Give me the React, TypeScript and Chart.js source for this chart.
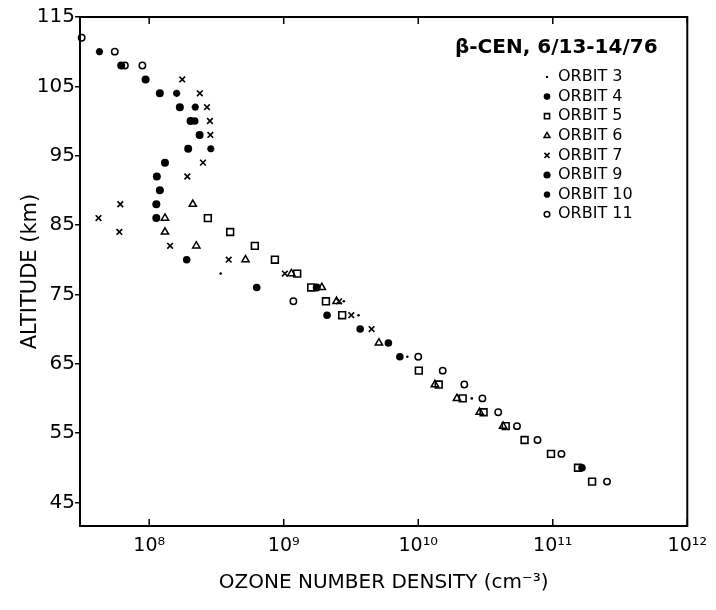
import React, { useEffect, useRef } from 'react';
import { Chart, registerables } from 'chart.js';
import { drawPoint } from 'chart.js/helpers';

Chart.register(...registerables);

const FONT = '"DejaVu Sans", sans-serif';

// ---------- data ----------
const legendTitle = 'β-CEN, 6/13-14/76';
const xAxisTitle = 'OZONE NUMBER DENSITY (cm⁻³)';
const yAxisTitle = 'ALTITUDE (km)';

const xTickValues = [1e8, 1e9, 1e10, 1e11, 1e12];
const xTickLabels = ['10⁸', '10⁹', '10¹⁰', '10¹¹', '10¹²'];
const yTickValues = [45, 55, 65, 75, 85, 95, 105, 115];

const orbitNames = ['ORBIT 3', 'ORBIT 4', 'ORBIT 5', 'ORBIT 6', 'ORBIT 7', 'ORBIT 9', 'ORBIT 10', 'ORBIT 11'];

const orbit3Alt = [78, 74, 72, 66, 60];
const orbit3Den = [3.4e8, 2.8e9, 3.6e9, 8.3e9, 2.5e10];

const orbit4Alt = [100, 80, 76, 72, 70, 68, 66, 50];
const orbit4Den = [2.18e8, 1.9e8, 6.3e8, 2.1e9, 3.7e9, 6.0e9, 7.3e9, 1.65e11];

const orbit5Alt = [86, 84, 82, 80, 78, 76, 74, 72, 64, 62, 60, 58, 56, 54, 52, 50, 48];
const orbit5Den = [2.73e8, 4.0e8, 6.1e8, 8.6e8, 1.26e9, 1.6e9, 2.06e9, 2.72e9, 1.01e10, 1.42e10, 2.14e10, 3.06e10, 4.47e10, 6.17e10, 9.7e10, 1.54e11, 1.96e11];

const orbit6Alt = [88, 86, 84, 82, 80, 78, 76, 74, 68, 62, 60, 58, 56];
const orbit6Den = [2.11e8, 1.31e8, 1.31e8, 2.24e8, 5.2e8, 1.14e9, 1.92e9, 2.47e9, 5.1e9, 1.33e10, 1.94e10, 2.86e10, 4.27e10];

const orbit7Alt = [106, 104, 102, 100, 98, 94, 92, 88, 86, 84, 82, 80, 78, 74, 72, 70];
const orbit7Den = [1.76e8, 2.38e8, 2.69e8, 2.83e8, 2.85e8, 2.51e8, 1.92e8, 6.1e7, 4.2e7, 6.0e7, 1.43e8, 3.9e8, 1.02e9, 2.58e9, 3.18e9, 4.5e9];

const orbit9Alt = [108, 106, 104, 102, 100, 98, 96, 94, 92, 90, 88, 86, 76];
const orbit9Den = [6.2e7, 9.4e7, 1.2e8, 1.69e8, 2.03e8, 2.37e8, 1.95e8, 1.31e8, 1.14e8, 1.2e8, 1.13e8, 1.13e8, 1.76e9];

const orbit10Alt = [110, 104, 102, 96];
const orbit10Den = [4.27e7, 1.6e8, 2.2e8, 2.87e8];

const orbit11Alt = [112, 110, 108, 108, 74, 66, 64, 62, 60, 58, 56, 54, 52, 48];
const orbit11Den = [3.15e7, 5.55e7, 6.6e7, 8.9e7, 1.18e9, 1.0e10, 1.52e10, 2.2e10, 3.0e10, 3.93e10, 5.42e10, 7.7e10, 1.16e11, 2.53e11];

const orbitAlts = [orbit3Alt, orbit4Alt, orbit5Alt, orbit6Alt, orbit7Alt, orbit9Alt, orbit10Alt, orbit11Alt];
const orbitDens = [orbit3Den, orbit4Den, orbit5Den, orbit6Den, orbit7Den, orbit9Den, orbit10Den, orbit11Den];

// ---------- styles ----------
type Marker = { style: any; r: number; lr: number; bw: number; fill: string };
const markers: Marker[] = [
  { style: 'circle', r: 1.3, lr: 1.2, bw: 0, fill: '#000' },
  { style: 'circle', r: 3.8, lr: 3.3, bw: 0, fill: '#000' },
  { style: 'rect', r: 4.8, lr: 3.6, bw: 1.6, fill: 'rgba(0,0,0,0)' },
  { style: 'triangle', r: 4.2, lr: 3.4, bw: 1.5, fill: 'rgba(0,0,0,0)' },
  { style: 'crossRot', r: 4, lr: 3.6, bw: 1.6, fill: 'rgba(0,0,0,0)' },
  { style: 'circle', r: 4, lr: 3.6, bw: 0, fill: '#000' },
  { style: 'star', r: 3.6, lr: 3.2, bw: 2.2, fill: '#000' },
  { style: 'circle', r: 3.2, lr: 2.8, bw: 1.5, fill: 'rgba(0,0,0,0)' },
];

const X_MIN = 3.06e7;
const X_MAX = 1e12;
const Y_MIN = 41.6;
const Y_MAX = 115;

const overlayPlugin = {
  id: 'overlay',
  afterDraw(chart: any) {
    const { ctx, chartArea: a, scales } = chart;
    ctx.save();
    ctx.strokeStyle = '#000';
    ctx.lineWidth = 2;
    ctx.strokeRect(a.left, a.top, a.right - a.left, a.bottom - a.top);
    ctx.lineWidth = 1.5;
    xTickValues.forEach((v) => {
      const px = scales.x.getPixelForValue(v);
      ctx.beginPath();
      ctx.moveTo(px, a.bottom);
      ctx.lineTo(px, a.bottom - 7);
      ctx.moveTo(px, a.top);
      ctx.lineTo(px, a.top + 7);
      ctx.stroke();
    });

    // legend
    ctx.fillStyle = '#000';
    ctx.textBaseline = 'middle';
    ctx.textAlign = 'left';
    ctx.font = 'bold 20px ' + FONT;
    ctx.fillText(legendTitle, 455, 48);
    ctx.font = '16px ' + FONT;
    orbitNames.forEach((name, i) => {
      const y = 77 + i * 19.6;
      const m = markers[i];
      ctx.save();
      ctx.fillStyle = m.fill;
      ctx.strokeStyle = '#000';
      ctx.lineWidth = m.bw;
      drawPoint(ctx, { pointStyle: m.style, radius: m.lr, borderWidth: m.bw, rotation: 0 } as any, 547, y);
      ctx.restore();
      ctx.fillStyle = '#000';
      ctx.fillText(name, 558, y);
    });
    ctx.restore();
  },
};

export default function App() {
  const canvasRef = useRef<HTMLCanvasElement | null>(null);

  useEffect(() => {
    if (!canvasRef.current) return;
    Chart.defaults.font.family = FONT;
    Chart.defaults.color = '#000';

    const datasets = orbitNames.map((name, i) => ({
      label: name,
      data: orbitAlts[i].map((alt, j) => ({ x: orbitDens[i][j], y: alt })),
      pointStyle: markers[i].style,
      pointRadius: markers[i].r,
      pointBorderWidth: markers[i].bw,
      pointBackgroundColor: markers[i].fill,
      pointBorderColor: '#000',
      showLine: false,
      clip: false as any,
    }));

    const chart = new Chart(canvasRef.current, {
      type: 'scatter',
      data: { datasets },
      options: {
        animation: false,
        responsive: false,
        devicePixelRatio: 1,
        events: [],
        layout: { padding: { left: 0, top: 17, right: 13, bottom: 0 } },
        plugins: { legend: { display: false }, tooltip: { enabled: false } },
        scales: {
          x: {
            type: 'logarithmic',
            min: X_MIN,
            max: X_MAX,
            afterBuildTicks: (s: any) => {
              s.ticks = xTickValues.map((v) => ({ value: v }));
            },
            afterFit: (s: any) => {
              s.height = 84;
            },
            ticks: {
              autoSkip: false,
              maxRotation: 0,
              padding: 9,
              font: { size: 19 },
              color: '#000',
              callback: (v: any) => {
                const idx = xTickValues.indexOf(Number(v));
                return idx >= 0 ? xTickLabels[idx] : '';
              },
            },
            grid: { display: true, drawOnChartArea: false, drawTicks: false },
            border: { display: false },
            title: {
              display: true,
              text: xAxisTitle,
              font: { size: 20 },
              color: '#000',
              padding: { top: 0, bottom: 15 },
            },
          },
          y: {
            type: 'linear',
            min: Y_MIN,
            max: Y_MAX,
            afterBuildTicks: (s: any) => {
              s.ticks = yTickValues.map((v) => ({ value: v }));
            },
            afterFit: (s: any) => {
              s.width = 80;
            },
            ticks: { padding: 0, font: { size: 20 }, color: '#000' },
            grid: { drawOnChartArea: false, drawTicks: true, tickLength: 5, color: '#000', lineWidth: 1.5 },
            border: { display: false },
            title: {
              display: true,
              text: yAxisTitle,
              font: { size: 21 },
              color: '#000',
              padding: { top: 18, bottom: 0 },
            },
          },
        },
      } as any,
      plugins: [overlayPlugin],
    });
    return () => chart.destroy();
  }, []);

  return (
    <div style={{ position: 'fixed', left: 0, top: 0, width: 716, height: 610, background: '#fff' }}>
      <canvas ref={canvasRef} width={716} height={610} style={{ display: 'block' }} />
    </div>
  );
}
